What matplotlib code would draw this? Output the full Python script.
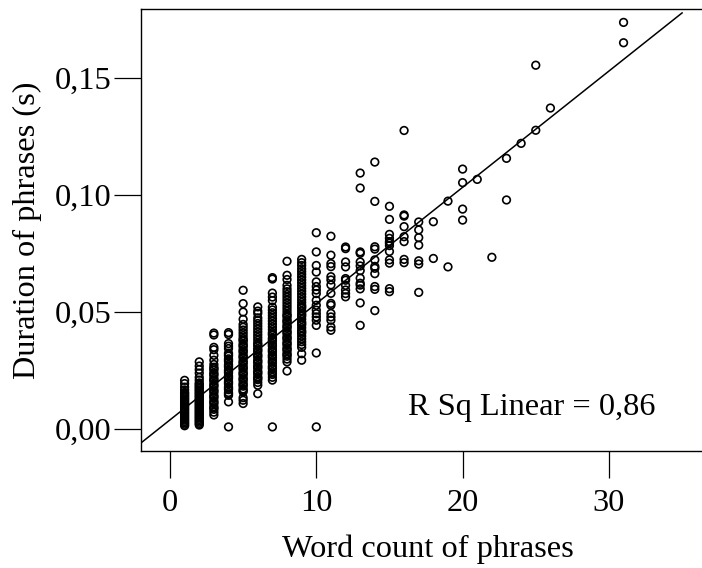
import matplotlib
matplotlib.use("Agg")
import matplotlib.pyplot as plt

plt.rcParams['font.family'] = ['Liberation Serif', 'DejaVu Serif']

# ---- data (word count -> phrase durations in s) ----
d1 = [0.0015, 0.0021, 0.0027, 0.0033, 0.0039, 0.0045, 0.0051, 0.0057, 0.0063,
      0.0069, 0.0075, 0.0081, 0.0087, 0.0093, 0.0099, 0.0105, 0.0111, 0.0117,
      0.0123, 0.0129, 0.0135, 0.0141, 0.0147, 0.0153, 0.0158, 0.0168, 0.0180,
      0.0195, 0.0209]
d2 = [0.0018, 0.0024, 0.0030, 0.0036, 0.0042, 0.0048, 0.0054, 0.0060, 0.0066,
      0.0072, 0.0078, 0.0084, 0.0090, 0.0096, 0.0102, 0.0108, 0.0114, 0.0120,
      0.0126, 0.0132, 0.0138, 0.0144, 0.0150, 0.0156, 0.0162, 0.0168, 0.0174,
      0.0180, 0.0186, 0.0192, 0.0198, 0.0210, 0.0222, 0.0240, 0.0255, 0.0270,
      0.0288]
d3 = [0.0061, 0.0073, 0.0085, 0.0091, 0.0097, 0.0109, 0.0115, 0.0121, 0.0133,
      0.0139, 0.0145, 0.0157, 0.0163, 0.0169, 0.0181, 0.0187, 0.0193, 0.0205,
      0.0211, 0.0217, 0.0229, 0.0235, 0.0241, 0.0253, 0.0259, 0.0265, 0.0277,
      0.0295, 0.0316, 0.0340, 0.0350, 0.0403, 0.0411]
d4 = [0.0010, 0.0117, 0.0145, 0.0151, 0.0157, 0.0169, 0.0175, 0.0181, 0.0193,
      0.0199, 0.0205, 0.0217, 0.0223, 0.0229, 0.0241, 0.0247, 0.0253, 0.0265,
      0.0271, 0.0277, 0.0289, 0.0295, 0.0301, 0.0313, 0.0319, 0.0325, 0.0345,
      0.0355, 0.0366, 0.0405, 0.0413]
d5 = [0.0110, 0.0124, 0.0135, 0.0160, 0.0166, 0.0172, 0.0184, 0.0190, 0.0196,
      0.0208, 0.0214, 0.0220, 0.0232, 0.0238, 0.0244, 0.0256, 0.0262, 0.0268,
      0.0280, 0.0286, 0.0292, 0.0304, 0.0310, 0.0316, 0.0328, 0.0334, 0.0340,
      0.0352, 0.0358, 0.0364, 0.0376, 0.0382, 0.0388, 0.0400, 0.0412, 0.0424,
      0.0436, 0.0448, 0.0470, 0.0501, 0.0537, 0.0594]
d6 = [0.0152, 0.0188, 0.0200, 0.0212, 0.0218, 0.0224, 0.0236, 0.0242, 0.0248,
      0.0260, 0.0266, 0.0272, 0.0284, 0.0290, 0.0296, 0.0308, 0.0314, 0.0320,
      0.0332, 0.0338, 0.0344, 0.0356, 0.0362, 0.0368, 0.0380, 0.0392, 0.0404,
      0.0416, 0.0428, 0.0440, 0.0452, 0.0464, 0.0476, 0.0495, 0.0505, 0.0523]
d7 = [0.0010, 0.0210, 0.0222, 0.0234, 0.0240, 0.0246, 0.0258, 0.0264, 0.0270,
      0.0282, 0.0288, 0.0294, 0.0306, 0.0312, 0.0318, 0.0330, 0.0336, 0.0342,
      0.0354, 0.0360, 0.0366, 0.0378, 0.0384, 0.0390, 0.0402, 0.0408, 0.0414,
      0.0426, 0.0438, 0.0450, 0.0462, 0.0474, 0.0486, 0.0498, 0.0510, 0.0522,
      0.0550, 0.0565, 0.0582, 0.0642, 0.0648]
d8 = [0.0249, 0.0288, 0.0300, 0.0312, 0.0318, 0.0324, 0.0336, 0.0342, 0.0348,
      0.0360, 0.0366, 0.0372, 0.0384, 0.0390, 0.0396, 0.0408, 0.0414, 0.0420,
      0.0432, 0.0438, 0.0444, 0.0456, 0.0462, 0.0468, 0.0480, 0.0486, 0.0492,
      0.0504, 0.0516, 0.0528, 0.0540, 0.0552, 0.0564, 0.0576, 0.0588, 0.0600,
      0.0615, 0.0640, 0.0658, 0.0718]
d9 = [0.0295, 0.0323, 0.0350, 0.0362, 0.0374, 0.0386, 0.0398, 0.0410, 0.0416,
      0.0422, 0.0434, 0.0446, 0.0452, 0.0458, 0.0470, 0.0482, 0.0488, 0.0494,
      0.0506, 0.0518, 0.0524, 0.0530, 0.0542, 0.0554, 0.0566, 0.0578, 0.0590,
      0.0602, 0.0614, 0.0626, 0.0638, 0.0650, 0.0662, 0.0674, 0.0686, 0.0700,
      0.0712, 0.0726]
d10 = [0.0010, 0.0326, 0.0444, 0.0466, 0.0480, 0.0494, 0.0509, 0.0530, 0.0551,
       0.0580, 0.0595, 0.0610, 0.0630, 0.0672, 0.0700, 0.0758, 0.0840]
d11 = [0.0423, 0.0437, 0.0466, 0.0480, 0.0495, 0.0530, 0.0538, 0.0581, 0.0617,
       0.0638, 0.0652, 0.0695, 0.0708, 0.0744, 0.0825]
d12 = [0.0566, 0.0580, 0.0595, 0.0615, 0.0637, 0.0644, 0.0694, 0.0715, 0.0772,
       0.0779]
d13 = [0.0444, 0.0540, 0.0600, 0.0616, 0.0624, 0.0646, 0.0678, 0.0698, 0.0715,
       0.0752, 0.0758, 0.1031, 0.1095]
d14 = [0.0507, 0.0598, 0.0610, 0.0665, 0.0688, 0.0696, 0.0724, 0.0770, 0.0780,
       0.0974, 0.1142]
d15 = [0.0588, 0.0601, 0.0710, 0.0724, 0.0760, 0.0785, 0.0795, 0.0802, 0.0816,
       0.0833, 0.0897, 0.0953]
d16 = [0.0712, 0.0726, 0.0802, 0.0823, 0.0866, 0.0911, 0.0916, 0.1277]
d17 = [0.0585, 0.0706, 0.0720, 0.0787, 0.0819, 0.0852, 0.0886]
d18 = [0.0730, 0.0887]
d19 = [0.0694, 0.0975]
d20 = [0.0894, 0.0941, 0.1054, 0.1112]
d21 = [0.1068]
d22 = [0.0735]
d23 = [0.0980, 0.1158]
d24 = [0.1222]
d25 = [0.1278, 0.1556]
d26 = [0.1373]
d31 = [0.1652, 0.1739]

word_counts = [1, 2, 3, 4, 5, 6, 7, 8, 9, 10, 11, 12, 13, 14, 15, 16, 17, 18,
               19, 20, 21, 22, 23, 24, 25, 26, 31]
durations = [d1, d2, d3, d4, d5, d6, d7, d8, d9, d10, d11, d12, d13, d14, d15,
             d16, d17, d18, d19, d20, d21, d22, d23, d24, d25, d26, d31]

fit_intercept = 0.0040
fit_slope = 0.00497
fit_x_end = 35
r_sq_text = "R Sq Linear = 0,86"

x_ticks = [0, 10, 20, 30]
x_ticklabels = ["0", "10", "20", "30"]
y_ticks = [0.00, 0.05, 0.10, 0.15]
y_ticklabels = ["0,00", "0,05", "0,10", "0,15"]

# ---- figure ----
W, H = 702, 568
fig = plt.figure(figsize=(W / 100, H / 100), dpi=100)
ax_left, ax_right, ax_top, ax_bottom = 141.3, 715, 9.3, 451
ax = fig.add_axes([ax_left / W, (H - ax_bottom) / H,
                   (ax_right - ax_left) / W, (ax_bottom - ax_top) / H])

xs, ys = [], []
for wc, ds in zip(word_counts, durations):
    xs.extend([wc] * len(ds))
    ys.extend(ds)
ax.scatter(xs, ys, s=30, facecolors='none', edgecolors='black',
           linewidths=1.2, zorder=3, clip_on=False)

xlim = (-1.96, 37.25)
ylim = (-0.0093, 0.1795)
ax.set_xlim(*xlim)
ax.set_ylim(*ylim)
ax.plot([xlim[0], fit_x_end],
        [fit_intercept + fit_slope * xlim[0], fit_intercept + fit_slope * fit_x_end],
        color='black', lw=1.1, zorder=2)

fs = 23.3
ax.set_xticks(x_ticks)
ax.set_xticklabels(x_ticklabels, fontsize=fs)
ax.set_yticks(y_ticks)
ax.set_yticklabels(y_ticklabels, fontsize=fs)
ax.tick_params(direction='out', length=19.5, width=0.9, color='black')
ax.tick_params(axis='x', pad=8)
ax.tick_params(axis='y', pad=2)
for sp in ax.spines.values():
    sp.set_linewidth(1.0)
    sp.set_color('black')

ax.set_xlabel("Word count of phrases", fontsize=fs, labelpad=12)
ax.set_ylabel("Duration of phrases (s)", fontsize=fs, labelpad=9)

fig.text(408 / W, (H - 415) / H, r_sq_text, fontsize=fs, ha='left', va='baseline')

fig.savefig("out.png", dpi=100)
